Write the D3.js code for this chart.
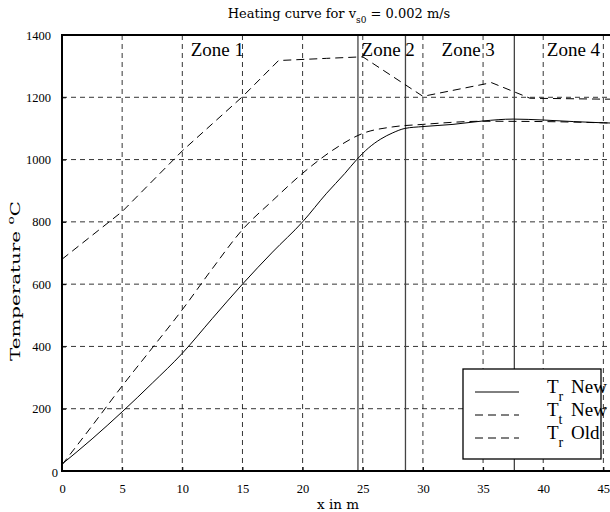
<!DOCTYPE html>
<html>
<head>
<meta charset="utf-8">
<script src="https://cdn.jsdelivr.net/npm/d3@7"></script>
<style>
  html, body { margin: 0; padding: 0; background: #fff; }
  svg { display: block; }
  text { font-family: "Liberation Serif", "Times New Roman", serif; fill: #000; }
  .lbl { font-family: "DejaVu Serif", serif; }
</style>
</head>
<body>
<svg id="chart" width="610" height="512"></svg>
<script>
// Position along the furnace (m) and temperatures (°C)
const xTrNew = [0, 2.5, 5, 7.5, 10, 12.5, 15, 17.5, 20, 22, 23.5, 24.5, 25.5, 26.5, 27.5, 28.5, 30, 32.5, 35, 37.5, 40, 42.5, 45, 46];
const trNew  = [22, 103, 190, 282, 378, 490, 600, 703, 800, 892, 955, 1000, 1038, 1066, 1086, 1100, 1106, 1113, 1124, 1130, 1127, 1122, 1118, 1117];

const xTtNew = [0, 5, 10, 15, 18, 22, 25, 30, 35.7, 38.9, 45, 46];
const ttNew  = [680, 833, 1028, 1202, 1318, 1325, 1330, 1203, 1247, 1197, 1194, 1194];

const xTrOld = [0, 2.5, 5, 7.5, 10, 12.5, 15, 17.5, 20, 22.5, 25, 27.5, 30, 35, 40, 45, 46];
const trOld  = [20, 145, 273, 395, 518, 650, 775, 868, 956, 1030, 1084, 1105, 1113, 1123, 1122, 1118, 1117];

// Zone boundaries and labels
const zoneBounds = [24.6, 28.55, 37.6];
const zoneNames  = ["Zone 1", "Zone 2", "Zone 3", "Zone 4"];
const zoneNameX  = [10.7, 24.9, 31.55, 40.3];

// Axis ticks
const xTicks = [0, 5, 10, 15, 20, 25, 30, 35, 40, 45];
const yTicks = [0, 200, 400, 600, 800, 1000, 1200, 1400];

const svg = d3.select("#chart");
const plotL = 62, plotR = 615.4, plotT = 35, plotB = 471;

const x = d3.scaleLinear().domain([0, 46]).range([plotL, plotR]);
const y = d3.scaleLinear().domain([0, 1400]).range([plotB, plotT]);

// Grid
const grid = svg.append("g").attr("stroke", "#000").attr("stroke-width", 0.8)
  .attr("stroke-dasharray", "5,4").attr("fill", "none");
grid.selectAll("line.v").data(xTicks.slice(1)).join("line").attr("class", "v")
  .attr("x1", d => x(d)).attr("x2", d => x(d)).attr("y1", plotT).attr("y2", plotB);
grid.selectAll("line.h").data(yTicks.slice(1, -1)).join("line").attr("class", "h")
  .attr("y1", d => y(d)).attr("y2", d => y(d)).attr("x1", plotL).attr("x2", plotR);

// Zone boundaries
svg.append("g").selectAll("line").data(zoneBounds).join("line")
  .attr("x1", d => x(d)).attr("x2", d => x(d)).attr("y1", plotT).attr("y2", plotB)
  .attr("stroke", "#444").attr("stroke-width", 1.3);

// Curves
const line = (xs, ys, curve) => d3.line()
  .x((d, i) => x(xs[i])).y(d => y(d)).curve(curve)(ys);

svg.append("path").attr("d", line(xTrNew, trNew, d3.curveMonotoneX))
  .attr("fill", "none").attr("stroke", "#000").attr("stroke-width", 1);
svg.append("path").attr("d", line(xTtNew, ttNew, d3.curveLinear))
  .attr("fill", "none").attr("stroke", "#000").attr("stroke-width", 1)
  .attr("stroke-dasharray", "8,5");
svg.append("path").attr("d", line(xTrOld, trOld, d3.curveMonotoneX))
  .attr("fill", "none").attr("stroke", "#000").attr("stroke-width", 1)
  .attr("stroke-dasharray", "8,5");

// Axes (inside ticks)
const xAxis = d3.axisBottom(x).tickValues(xTicks).tickSize(-4).tickPadding(13).tickFormat(d3.format("d"));
const yAxis = d3.axisLeft(y).tickValues(yTicks).tickSize(-4).tickPadding(11).tickFormat(d3.format("d"));
const gx = svg.append("g").attr("transform", `translate(0,${plotB})`).call(xAxis);
const gy = svg.append("g").attr("transform", `translate(${plotL},0)`).call(yAxis);
[gx, gy].forEach(g => {
  g.select(".domain").remove();
  g.selectAll(".tick line").attr("stroke", "#000");
  g.selectAll(".tick text").style("font-family", "Liberation Serif").style("font-size", "12.5px");
});
// the zero label sits a little closer to the corner
gy.selectAll(".tick text").filter(d => d === 0).attr("x", -4).attr("dy", "0.4em");

// Box frame
svg.append("path")
  .attr("d", `M${plotR},${plotT}H${plotL}V${plotB}H${plotR}`)
  .attr("fill", "none").attr("stroke", "#000").attr("stroke-width", 2);

// Zone labels
svg.append("g").selectAll("text").data(zoneNames).join("text")
  .attr("x", (d, i) => x(zoneNameX[i])).attr("y", 56)
  .style("font-size", "19px").text(d => d);

// Title
const title = svg.append("text").attr("class", "lbl").attr("x", 339).attr("y", 18)
  .attr("text-anchor", "middle").style("font-size", "13px");
title.append("tspan").text("Heating curve for v");
title.append("tspan").attr("dy", 5).style("font-size", "9px").text("s0");
title.append("tspan").attr("dy", -5).text(" = 0.002 m/s");

// Axis labels
svg.append("text").attr("class", "lbl").attr("x", 338).attr("y", 509).attr("text-anchor", "middle")
  .style("font-size", "13.5px").text("x in m");
const yl = svg.append("text").attr("class", "lbl")
  .attr("text-anchor", "middle").style("font-size", "13px");
yl.append("tspan").text("Temperature ");
yl.append("tspan").attr("dy", -6).style("font-size", "9px").text("o");
yl.append("tspan").attr("dy", 6).text("C");
// stretch the label along the axis height it occupies
const ylLen = yl.node().getComputedTextLength();
const ylScale = Math.max(1, 160 / ylLen);
yl.attr("transform", `translate(20,281) rotate(-90) scale(${ylScale},1)`);

// Legend
const legendItems = [
  { name: "New", sub: "r", dash: null },
  { name: "New", sub: "t", dash: "8,5" },
  { name: "Old", sub: "r", dash: "8,5" }
];
const lg = svg.append("g");
lg.append("rect").attr("x", 463).attr("y", 369).attr("width", 138).attr("height", 90)
  .attr("fill", "#fff").attr("stroke", "#000").attr("stroke-width", 1.3);
legendItems.forEach((it, i) => {
  const ly = 392 + i * 23;
  lg.append("line").attr("x1", 475).attr("x2", 519).attr("y1", ly).attr("y2", ly)
    .attr("stroke", "#000").attr("stroke-width", 1)
    .attr("stroke-dasharray", it.dash);
  const t = lg.append("text").attr("x", 547).attr("y", ly + 1).style("font-size", "19px");
  t.append("tspan").text("T");
  t.append("tspan").attr("dy", 8).style("font-size", "14px").text(it.sub);
  t.append("tspan").attr("dy", -8).attr("x", 571).text(it.name);
});
</script>
</body>
</html>
